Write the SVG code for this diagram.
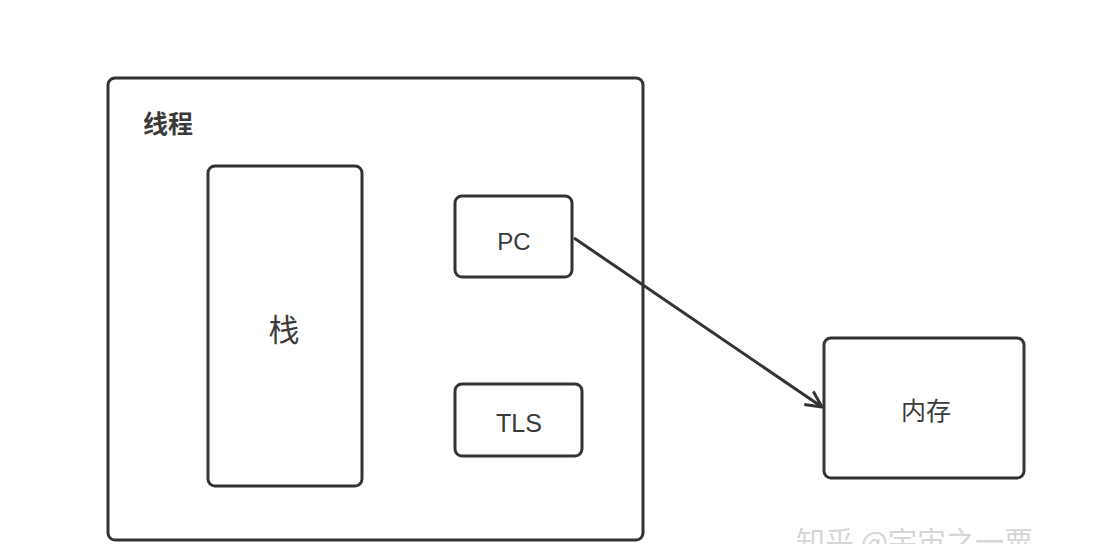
<svg xmlns="http://www.w3.org/2000/svg" width="1120" height="544" viewBox="0 0 1120 544">
<style>
.box{fill:#fff;stroke:#333;stroke-width:3}
.t{font-family:"Liberation Sans","Noto Sans CJK SC",sans-serif;fill:#3a3a3a;text-anchor:middle;dominant-baseline:central}
.wm{font-family:"Noto Sans CJK SC",sans-serif;fill:#d6d6d6;font-size:29px}
</style>
<defs>
<marker id="arr" viewBox="0 0 20 20" refX="18" refY="10" markerWidth="20" markerHeight="20" markerUnits="userSpaceOnUse" orient="auto">
<path d="M2,2 L18,10 L2,18" fill="none" stroke="#333" stroke-width="3" stroke-linejoin="round"/>
</marker>
</defs>
<rect width="1120" height="544" fill="#fff"/>
<g id="thread">
<rect class="box" x="108" y="78" width="535" height="462" rx="7"/>
<text class="t" x="168" y="124" font-size="25" font-weight="bold" font-family="Noto Sans CJK SC">线程</text>
</g>
<g id="stack">
<rect class="box" x="208" y="166" width="154" height="320" rx="7"/>
<text class="t" x="284" y="330" font-size="31">栈</text>
</g>
<g id="pc">
<rect class="box" x="455" y="196" width="117" height="81" rx="7"/>
<text class="t" x="514" y="241" font-size="24">PC</text>
</g>
<g id="tls">
<rect class="box" x="455" y="384" width="127" height="72" rx="7"/>
<text class="t" x="519" y="423" font-size="25">TLS</text>
</g>
<g id="memory">
<rect class="box" x="824" y="338" width="200" height="140" rx="7"/>
<text class="t" x="926" y="411" font-size="25">内存</text>
</g>
<g id="connectors">
<line x1="574" y1="238" x2="822" y2="407" stroke="#333" stroke-width="3" marker-end="url(#arr)"/>
</g>
<text class="wm" x="796" y="553">知乎 @宇宙之一粟</text>
</svg>
